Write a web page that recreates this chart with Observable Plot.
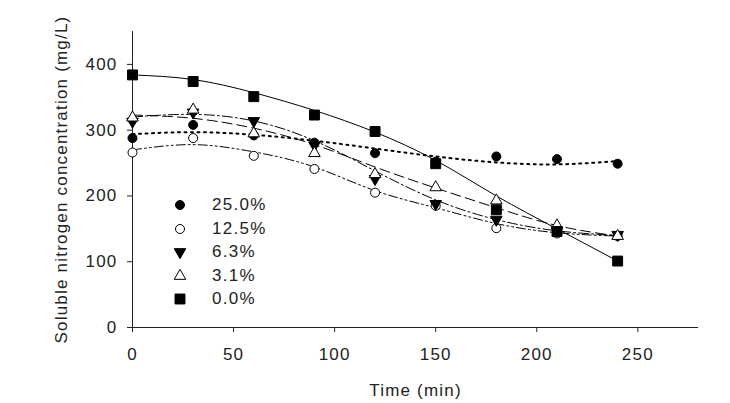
<!DOCTYPE html>
<html><head><meta charset="utf-8">
<script src="https://cdn.jsdelivr.net/npm/d3@7"></script>
<script src="https://cdn.jsdelivr.net/npm/@observablehq/plot@0.6"></script>
<style>
body{margin:0;background:#fff;}
#chart{position:relative;width:730px;height:403px;}
#chart svg text{font-size:17px !important;letter-spacing:1.2px;font-family:Arial,"Liberation Sans",sans-serif;}
#legend{position:absolute;left:0;top:0;font-family:Arial,"Liberation Sans",sans-serif;font-size:17px;letter-spacing:1.3px;color:#222;}
.row{position:absolute;display:flex;align-items:center;height:20px;}
.row span{margin-left:24px;}
</style></head><body><div id="chart"></div>
<script>
// ---- data ----
const times = [0, 30, 60, 90, 120, 150, 180, 210, 240];
const series = ["25.0%", "12.5%", "6.3%", "3.1%", "0.0%"];
// observed points
const obs25 = [288, 308, 292, 281, 265, 252, 260, 256, 249];
const obs12 = [266, 288, 261, 241, 205, 185, 151, 143, 139];
const obs6  = [313, 327, 314, 277, 226, 188, 164, 148, 141];
const obs3  = [319, 331, 295, 265, 233, 213, 193, 155, 139];
const obs0  = [384, 374, 351, 323, 298, 249, 179, 146, 101];
// fitted curves (at each time)
const fit25 = [294, 297, 293, 284, 272, 260, 251, 248, 253];
const fit12 = [270, 278, 267, 244, 208, 182, 158, 144, 139];
const fit6  = [320, 324, 314, 284, 238, 194, 164, 147, 140];
const fit3  = [323, 318, 303, 278, 244, 212, 182, 155, 139];
const fit0  = [384, 377, 357, 330, 297, 254, 200, 150, 101];
const xTicks = [0, 50, 100, 150, 200, 250];
const yTicks = [0, 100, 200, 300, 400];
const xLabel = "Time (min)";
const yLabel = "Soluble nitrogen concentration (mg/L)";

const obsList = [obs25, obs12, obs6, obs3, obs0];
const fitList = [fit25, fit12, fit6, fit3, fit0];

// ---- styles ----
const triangleDown = {
  draw(context, size) {
    const y = -Math.sqrt(size / (Math.sqrt(3) * 3));
    const s3 = Math.sqrt(3);
    context.moveTo(0, -y * 2);
    context.lineTo(-s3 * y, y);
    context.lineTo(s3 * y, y);
    context.closePath();
  }
};
const styles = [
  {symbol: "circle", fill: "black", r: 4.5, dash: "2,4.5", sw: 2},
  {symbol: "circle", fill: "white", r: 4.5, dash: "9,3,2,3,2,3", sw: 1},
  {symbol: triangleDown, fill: "black", r: 4.3, dash: "10,3,2,3", sw: 1},
  {symbol: "triangle", fill: "white", r: 4.3, dash: "10,5", sw: 1},
  {symbol: "square", fill: "black", r: 5.6, dash: null, sw: 1}
];
const font = "Arial, 'Liberation Sans', sans-serif";

const marks = [
  Plot.axisX(xTicks, {tickSize: 5, tickPadding: 15, fontSize: 17, fill: "#222",
    label: xLabel, labelAnchor: "center", labelOffset: 68, labelArrow: "none"}),
  Plot.axisY(yTicks, {tickSize: 5, tickPadding: 10, fontSize: 17, fill: "#222",
    label: yLabel, labelAnchor: "center", labelOffset: 78, labelArrow: "none"}),
  Plot.ruleX([0], {stroke: "#222"}),
  Plot.ruleY([0], {stroke: "#222"})
];
series.forEach((name, i) => {
  const fitData = times.map((t, j) => ({t, v: fitList[i][j]}));
  marks.push(Plot.line(fitData, {x: "t", y: "v", curve: "natural", stroke: "black",
    strokeWidth: styles[i].sw, strokeDasharray: styles[i].dash}));
});
series.forEach((name, i) => {
  const obsData = times.map((t, j) => ({t, v: obsList[i][j]}));
  marks.push(Plot.dot(obsData, {x: "t", y: "v", symbol: styles[i].symbol, r: styles[i].r,
    fill: styles[i].fill, stroke: "black", strokeWidth: 1}));
});

const chart = Plot.plot({
  width: 730,
  height: 403,
  marginLeft: 132,
  marginRight: 32,
  marginTop: 31,
  marginBottom: 76,
  style: {fontFamily: font, fontSize: "17px", color: "#222", background: "white"},
  x: {domain: [0, 280]},
  y: {domain: [0, 450]},
  marks
});
const container = document.getElementById("chart");
container.appendChild(chart);

// legend
const legend = document.createElement("div");
legend.id = "legend";
series.forEach((name, i) => {
  const row = document.createElement("div");
  row.className = "row";
  row.style.left = "172px";
  row.style.top = (195 + i * 23.5) + "px";
  const svg = d3.create("svg").attr("width", 16).attr("height", 20);
  const st = styles[i];
  const symType = typeof st.symbol === "string"
    ? {circle: d3.symbolCircle, triangle: d3.symbolTriangle, square: d3.symbolSquare}[st.symbol]
    : st.symbol;
  svg.append("path")
    .attr("transform", "translate(8,10)")
    .attr("d", d3.symbol(symType, st.r * st.r * Math.PI)())
    .attr("fill", st.fill).attr("stroke", "black").attr("stroke-width", 1);
  row.appendChild(svg.node());
  const span = document.createElement("span");
  span.textContent = name;
  row.appendChild(span);
  legend.appendChild(row);
});
container.appendChild(legend);
</script></body></html>
